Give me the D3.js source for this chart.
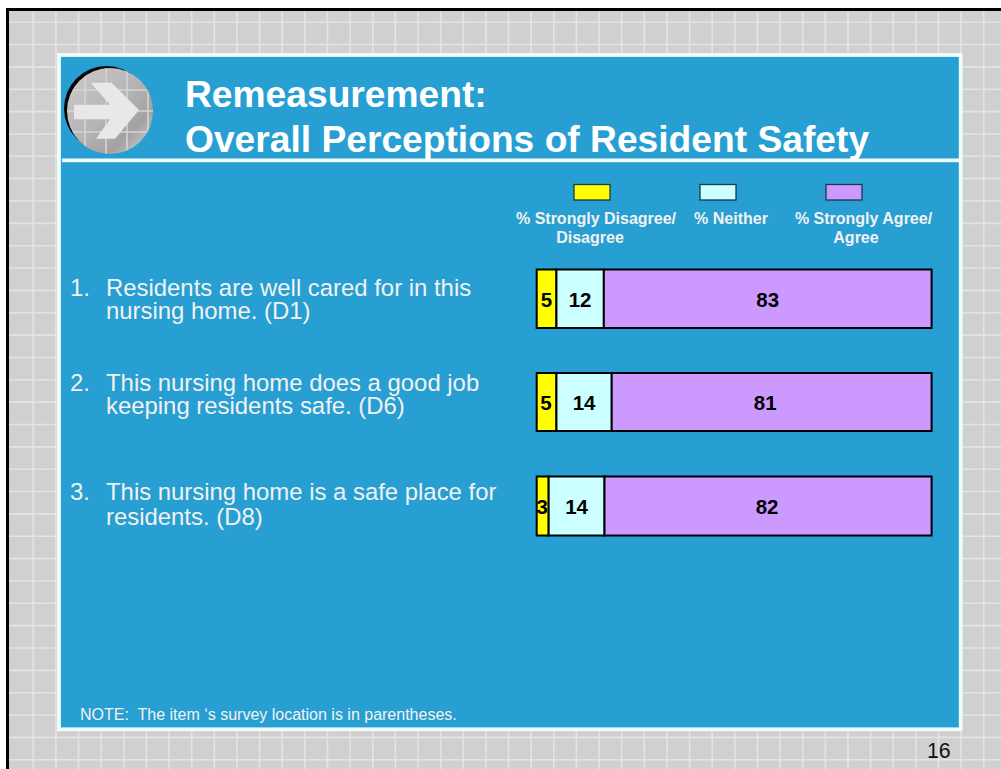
<!DOCTYPE html>
<html><head><meta charset="utf-8">
<script src="https://cdnjs.cloudflare.com/ajax/libs/d3/7.8.5/d3.min.js"></script>
<style>html,body{margin:0;padding:0;background:#fff;overflow:hidden}svg{display:block}text{font-family:"Liberation Sans",Arial,sans-serif;white-space:pre}</style>
</head><body><svg id="c" width="1001" height="769"></svg>
<script>
const titleLines = ["Remeasurement:", "Overall Perceptions of Resident Safety"];
const questions = [
  ["1.", "Residents are well cared for in this", "nursing home. (D1)"],
  ["2.", "This nursing home does a good job", "keeping residents safe. (D6)"],
  ["3.", "This nursing home is a safe place for", "residents. (D8)"]
];
const disagree = [5, 5, 3];
const neither = [12, 14, 14];
const agree = [83, 81, 82];
const seriesNames = ["% Strongly Disagree/\nDisagree", "% Neither", "% Strongly Agree/\nAgree"];
const seriesColors = ["#ffff00", "#ccffff", "#cc99ff"];
const note = "NOTE:  The item \u2018s survey location is in parentheses.";
const pageNumber = "16";

const svg = d3.select("#c");
const defs = svg.append("defs");
const W = 1001, H = 769;

// background and frame
svg.append("rect").attr("width", W).attr("height", H).attr("fill", "#fff");
svg.append("rect").attr("x", 6).attr("y", 8).attr("width", W).attr("height", H).attr("fill", "#d0d0d0");
const grid = svg.append("g").attr("stroke", "#e4e4e4").attr("stroke-width", 1.6);
d3.range(33.3, W, 22.63).forEach(x => grid.append("line").attr("x1", x).attr("x2", x).attr("y1", 10).attr("y2", H));
d3.range(22.2, H, 22.35).forEach(y => grid.append("line").attr("y1", y).attr("y2", y).attr("x1", 8).attr("x2", W));
svg.append("path").attr("d", `M7.5,${H}V9.5H${W}`).attr("fill", "none").attr("stroke", "#000").attr("stroke-width", 3);

// panel
svg.append("rect").attr("x", 59).attr("y", 55).attr("width", 901.7).attr("height", 674.3).attr("fill", "#279fd3").attr("stroke", "#eefdfd").attr("stroke-width", 3.8);
svg.append("rect").attr("x", 62).attr("y", 158.5).attr("width", 897).attr("height", 3.7).attr("fill", "#f4fbfd");

// icon
const grad = defs.append("linearGradient").attr("id", "ball").attr("x1", 0.1).attr("y1", 0.1).attr("x2", 0.9).attr("y2", 0.9);
[["0", "#c9c8c8"], ["0.5", "#b5b3b3"], ["0.8", "#a3a1a1"], ["1", "#c4c3c3"]].forEach(s => grad.append("stop").attr("offset", s[0]).attr("stop-color", s[1]));
svg.append("circle").attr("cx", 106.5).attr("cy", 108.5).attr("r", 42.5).attr("fill", "#050505");
svg.append("circle").attr("cx", 110).attr("cy", 111).attr("r", 43).attr("fill", "url(#ball)");
defs.append("clipPath").attr("id", "ballClip").append("circle").attr("cx", 110).attr("cy", 111).attr("r", 43);
const ig = svg.append("g").attr("clip-path", "url(#ballClip)").attr("stroke", "#d6d4d2").attr("stroke-width", 1.6);
d3.range(85, 150, 21).forEach(x => ig.append("line").attr("x1", x).attr("x2", x).attr("y1", 60).attr("y2", 160));
d3.range(90, 150, 21).forEach(y => ig.append("line").attr("y1", y).attr("y2", y).attr("x1", 60).attr("x2", 160));
svg.append("path").attr("d", "M74,104.7H110L90.7,82.7H111.7L139,110L115,138.7H96L110,119.3H74Z").attr("fill", "#e8e8e8");

// title
const title = svg.append("g").attr("fill", "#fff").attr("font-weight", "bold").attr("font-size", 37.2);
titleLines.forEach((t, i) => title.append("text").attr("x", 185).attr("y", [107, 152][i]).text(t));

// scales
const rows = questions.map((q, i) => i);
const x = d3.scaleLinear().domain([0, 1]).range([536.7, 931.6]);
const yTop = d3.scaleOrdinal().domain(rows).range([269.5, 373, 476.5]);
const barH = d3.scaleOrdinal().domain(rows).range([58.5, 58, 59]);
const stacks = d3.stack().keys([0, 1, 2]).value((d, k) => [disagree, neither, agree][k][d]).offset(d3.stackOffsetExpand)(rows);
const labelDx = [[0, 0, 0], [-0.5, 0, -6.5], [-0.5, 0, -1]];
const labelY = [306.5, 409.5, 514];

// bars
stacks.forEach((s, k) => {
  svg.append("g").selectAll("rect").data(s).join("rect")
    .attr("x", d => x(d[0])).attr("width", d => x(d[1]) - x(d[0]))
    .attr("y", (d, i) => yTop(i)).attr("height", (d, i) => barH(i))
    .attr("fill", seriesColors[k]).attr("stroke", "#000").attr("stroke-width", 2);
});
stacks.forEach((s, k) => {
  svg.append("g").selectAll("text").data(s).join("text")
    .attr("x", (d, i) => (x(d[0]) + x(d[1])) / 2 + labelDx[i][k])
    .attr("y", (d, i) => labelY[i])
    .attr("text-anchor", "middle").attr("font-weight", "bold").attr("font-size", 20.5).attr("fill", "#000")
    .text((d, i) => [disagree, neither, agree][k][i]);
});

// legend
const lx = [574, 700, 826], ltx = [[596, 590], [731], [863.5, 856]];
seriesNames.forEach((n, i) => {
  svg.append("rect").attr("x", lx[i]).attr("y", 184.5).attr("width", 36).attr("height", 15.5)
    .attr("fill", seriesColors[i]).attr("stroke", "#1a3a4a").attr("stroke-width", 1.3);
  n.split("\n").forEach((l, j) => svg.append("text")
    .attr("x", ltx[i][j]).attr("y", 224.3 + j * 19)
    .attr("text-anchor", "middle").attr("font-size", 16).attr("font-weight", "bold").attr("fill", "#f2f2f2").text(l));
});

// questions
const qy = [296, 391, 500], qy2 = [319, 414, 525];
questions.forEach((q, i) => {
  const g = svg.append("g").attr("fill", "#f2f2f2").attr("font-size", 23.9);
  g.append("text").attr("x", 70).attr("y", qy[i]).text(q[0]);
  g.append("text").attr("x", 106).attr("y", qy[i]).text(q[1]);
  g.append("text").attr("x", 106).attr("y", qy2[i]).text(q[2]);
});

// note and page number
svg.append("text").attr("x", 80).attr("y", 720).attr("font-size", 16).attr("fill", "#f2f2f2").text(note);
svg.append("text").attr("x", 927).attr("y", 757.5).attr("font-size", 21.3).attr("fill", "#111").text(pageNumber);
</script></body></html>
